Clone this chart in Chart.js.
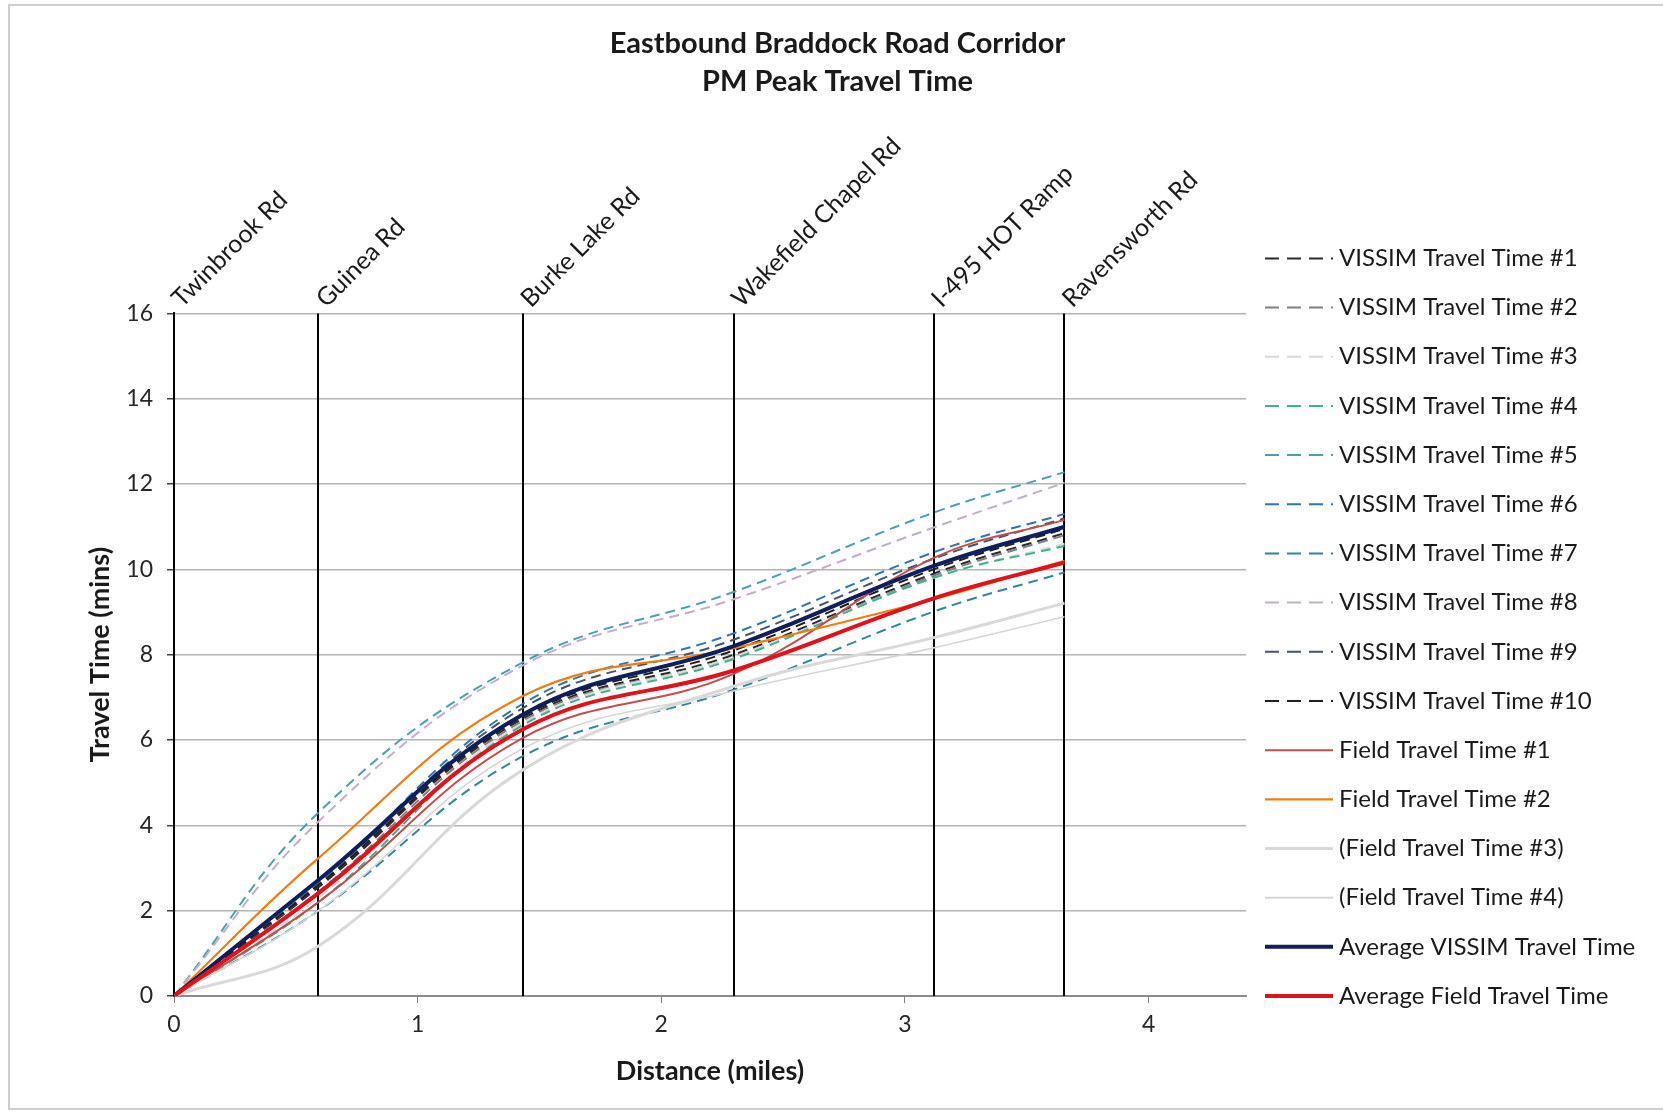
<!DOCTYPE html>
<html>
<head>
<meta charset="utf-8">
<script src="https://cdn.jsdelivr.net/npm/chart.js@4.4.1/dist/chart.umd.min.js"></script>
<style>
  body { margin: 0; background: #fff; overflow: hidden; }
  #wrap { position: relative; width: 1663px; height: 1112px; }
  #frame { position: absolute; left: 8px; top: 4px; width: 1700px; height: 1102px; border: 2px solid #cfcfcf; pointer-events: none; }
  canvas { display: block; }
</style>
</head>
<body>
<div id="wrap">
  <canvas id="travelChart" width="1663" height="1112"></canvas>
  <div id="frame"></div>
</div>
<script>
// ===== DATA =====
const roadNames = ['Twinbrook Rd', 'Guinea Rd', 'Burke Lake Rd', 'Wakefield Chapel Rd', 'I-495 HOT Ramp', 'Ravensworth Rd'];
const roadMiles = [0, 0.593, 1.432, 2.297, 3.118, 3.655];
const xTicks = [0, 1, 2, 3, 4];

const vissim1 = [0, 2.55, 6.50, 8.00, 9.90, 10.85];
const vissim2 = [0, 2.45, 6.45, 7.95, 9.85, 10.80];
const vissim3 = [0, 2.30, 6.40, 7.95, 9.80, 10.60];
const vissim4 = [0, 2.20, 6.35, 7.90, 9.80, 10.55];
const vissim5 = [0, 4.30, 7.82, 9.47, 11.33, 12.28];
const vissim6 = [0, 2.65, 6.85, 8.50, 10.40, 11.30];
const vissim7 = [0, 2.00, 5.62, 7.18, 9.01, 9.93];
const vissim8 = [0, 4.09, 7.75, 9.30, 10.98, 12.03];
const vissim9 = [0, 2.60, 6.75, 8.35, 10.25, 11.20];
const vissim10 = [0, 2.60, 6.55, 8.10, 10.00, 10.95];
const field1 = [0, 2.20, 6.05, 7.55, 10.27, 11.16];
const field2 = [0, 3.23, 7.03, 8.15, 9.30, 10.20];
const field3 = [0, 1.17, 5.30, 7.26, 8.40, 9.21];
const field4 = [0, 2.00, 5.80, 7.15, 8.16, 8.89];
const avgVissim = [0, 2.72, 6.60, 8.20, 10.08, 11.00];
const avgField = [0, 2.41, 6.25, 7.63, 9.32, 10.16];

// ===== SERIES STYLES =====
const DASH = [10, 6];
const series = [
    { label: 'VISSIM Travel Time #1', data: vissim1, color: '#2b2b2b', width: 2, dash: DASH },
    { label: 'VISSIM Travel Time #2', data: vissim2, color: '#7f7f7f', width: 2, dash: DASH },
    { label: 'VISSIM Travel Time #3', data: vissim3, color: '#d9d9d9', width: 2, dash: DASH },
    { label: 'VISSIM Travel Time #4', data: vissim4, color: '#3cb38a', width: 2, dash: DASH },
    { label: 'VISSIM Travel Time #5', data: vissim5, color: '#4a9fb3', width: 2, dash: DASH },
    { label: 'VISSIM Travel Time #6', data: vissim6, color: '#2e75b6', width: 2, dash: DASH },
    { label: 'VISSIM Travel Time #7', data: vissim7, color: '#31869b', width: 2, dash: DASH },
    { label: 'VISSIM Travel Time #8', data: vissim8, color: '#c3adc9', width: 2, dash: DASH },
    { label: 'VISSIM Travel Time #9', data: vissim9, color: '#44546a', width: 2, dash: DASH },
    { label: 'VISSIM Travel Time #10', data: vissim10, color: '#1f1f1f', width: 2, dash: DASH },
    { label: 'Field Travel Time #1', data: field1, color: '#c0504d', width: 2, dash: [] },
    { label: 'Field Travel Time #2', data: field2, color: '#ef7d14', width: 2.2, dash: [] },
    { label: '(Field Travel Time #3)', data: field3, color: '#d9d9d9', width: 3, dash: [] },
    { label: '(Field Travel Time #4)', data: field4, color: '#d6d6d6', width: 1.6, dash: [] },
    { label: 'Average VISSIM Travel Time', data: avgVissim, color: '#0e1f5b', width: 4, dash: [] },
    { label: 'Average Field Travel Time', data: avgField, color: '#e0121b', width: 4, dash: [] }
];

Chart.defaults.font.family = 'Lato, "Open Sans", sans-serif';
Chart.defaults.color = '#262626';

document.addEventListener('DOMContentLoaded', () => {
    const ctx = document.getElementById('travelChart');

    // ===== ROAD MARKERS + LEGEND PLUGIN =====
    const roadsAndLegend = {
        id: 'roadsAndLegend',
        beforeDatasetsDraw(chart) {
            const { ctx, chartArea: { top, bottom }, scales: { x } } = chart;
            ctx.save();
            ctx.strokeStyle = '#000';
            ctx.lineWidth = 2;
            roadMiles.forEach(m => {
                const px = Math.round(x.getPixelForValue(m));
                ctx.beginPath();
                ctx.moveTo(px, top);
                ctx.lineTo(px, bottom);
                ctx.stroke();
            });
            ctx.restore();
        },
        afterDraw(chart) {
            const { ctx, chartArea: { top, bottom, right }, scales: { x } } = chart;
            ctx.save();
            // road labels, rotated
            ctx.font = '25px Lato, "Open Sans", sans-serif';
            ctx.fillStyle = '#1a1a1a';
            ctx.textAlign = 'left';
            ctx.textBaseline = 'alphabetic';
            roadMiles.forEach((m, i) => {
                const px = x.getPixelForValue(m);
                ctx.save();
                ctx.translate(px + 8, top - 5);
                ctx.rotate(-Math.PI / 4);
                ctx.fillText(roadNames[i], 0, 0);
                ctx.restore();
            });

            // legend
            const firstY = top - 55;
            const step = (bottom - firstY) / (series.length - 1);
            const lineX0 = right + 19;
            const lineX1 = right + 87;
            ctx.font = '24px Lato, "Open Sans", sans-serif';
            ctx.textBaseline = 'middle';
            series.forEach((s, i) => {
                const y = firstY + i * step;
                ctx.beginPath();
                ctx.setLineDash(s.dash.length ? [14, 8] : []);
                ctx.strokeStyle = s.color;
                ctx.lineWidth = Math.max(s.width, 2);
                ctx.moveTo(lineX0, y);
                ctx.lineTo(lineX1, y);
                ctx.stroke();
                ctx.setLineDash([]);
                ctx.fillStyle = '#1a1a1a';
                ctx.fillText(s.label, lineX1 + 6, y);
            });
            ctx.restore();
        }
    };

    new Chart(ctx, {
        type: 'line',
        data: {
            datasets: series.map((s, i) => ({
                label: s.label,
                data: roadMiles.map((m, k) => ({ x: m, y: s.data[k] })),
                borderColor: s.color,
                backgroundColor: s.color,
                borderWidth: s.width,
                borderDash: s.dash,
                pointRadius: 0,
                tension: 0.4,
                fill: false,
                order: series.length - i
            }))
        },
        options: {
            responsive: false,
            animation: false,
            layout: { padding: { left: 12, right: 0, top: 0, bottom: 0 } },
            plugins: {
                legend: { display: false },
                tooltip: { enabled: false },
                title: {
                    display: true,
                    text: ['Eastbound Braddock Road Corridor', 'PM Peak Travel Time'],
                    font: { size: 29, weight: 'bold', lineHeight: 1.3 },
                    color: '#1a1a1a',
                    padding: { top: 25, bottom: 213 }
                }
            },
            scales: {
                x: {
                    type: 'linear',
                    min: 0,
                    max: 4.4,
                    afterFit: s => { s.height = 116; },
                    afterBuildTicks: s => { s.ticks = xTicks.map(v => ({ value: v })); },
                    ticks: { font: { size: 23 }, padding: 8, color: '#262626' },
                    grid: { drawOnChartArea: false, drawTicks: true, tickLength: 7, tickColor: '#808080' },
                    border: { color: '#8c8c8c', width: 2 },
                    title: {
                        display: true,
                        text: 'Distance (miles)',
                        font: { size: 27, weight: 'bold' },
                        color: '#1a1a1a',
                        padding: { top: 0, bottom: 25 }
                    }
                },
                y: {
                    type: 'linear',
                    min: 0,
                    max: 16,
                    afterFit: s => { s.width = 162; },
                    ticks: { stepSize: 2, font: { size: 23 }, padding: 14, color: '#262626' },
                    grid: { color: '#b3b3b3', lineWidth: 1.5, tickLength: 7, tickColor: '#404040' },
                    border: { color: '#000', width: 2 },
                    title: {
                        display: true,
                        text: 'Travel Time (mins)',
                        font: { size: 27, weight: 'bold' },
                        color: '#1a1a1a',
                        padding: { top: 72, bottom: 0 }
                    }
                },
                spacer: {
                    type: 'linear',
                    axis: 'y',
                    position: 'right',
                    display: true,
                    afterFit: s => { s.width = 417; },
                    ticks: { display: false },
                    grid: { display: false },
                    border: { display: false }
                }
            }
        },
        plugins: [roadsAndLegend]
    });
});
</script>
</body>
</html>
